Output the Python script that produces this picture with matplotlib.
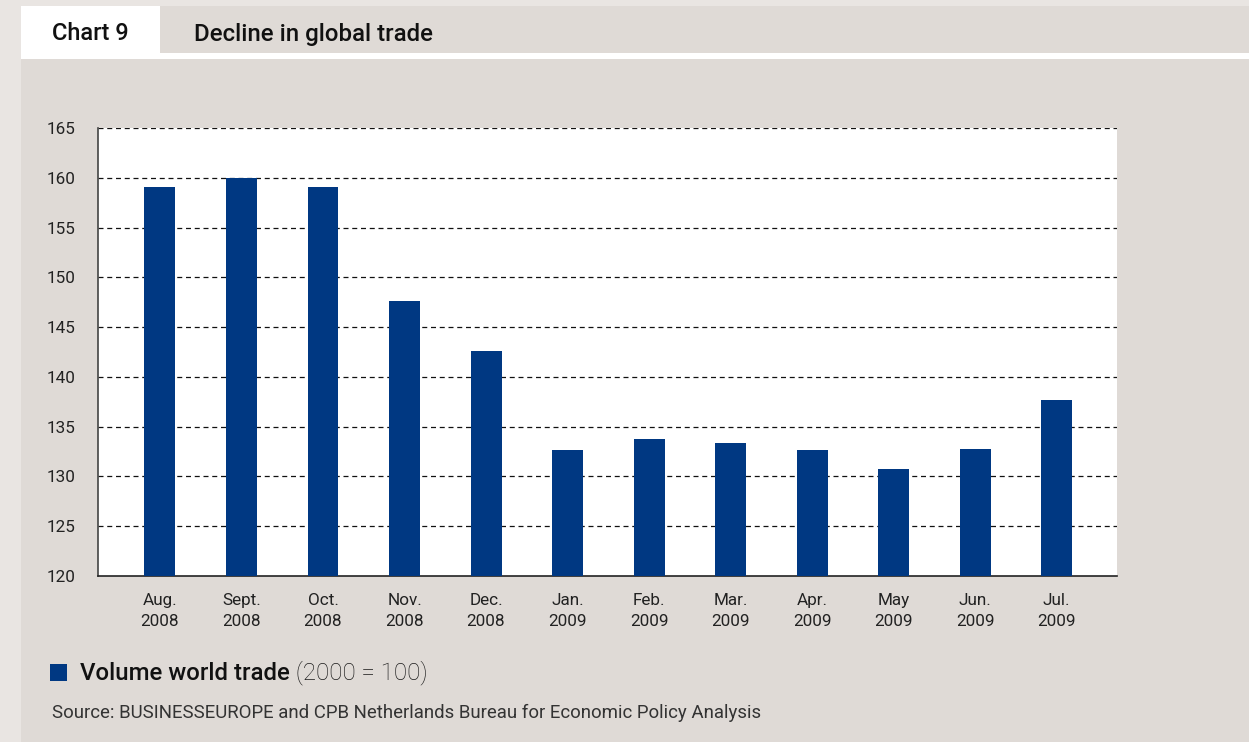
import matplotlib
matplotlib.use("Agg")
import matplotlib.pyplot as plt
from matplotlib.patches import Rectangle
import numpy as np

plt.rcParams['font.family'] = ['Roboto', 'DejaVu Sans']

months = ["Aug.\n2008", "Sept.\n2008", "Oct.\n2008", "Nov.\n2008", "Dec.\n2008",
          "Jan.\n2009", "Feb.\n2009", "Mar.\n2009", "Apr.\n2009", "May\n2009",
          "Jun.\n2009", "Jul.\n2009"]
volume = [159.1, 160.0, 159.1, 147.6, 142.6, 132.7, 133.8, 133.4, 132.7, 130.7, 132.8, 137.7]
yticks = [120, 125, 130, 135, 140, 145, 150, 155, 160, 165]

W, H = 1249, 742
fig = plt.figure(figsize=(W / 100, H / 100), dpi=100)
fig.patch.set_facecolor('#e9e5e2')

def box(x0, y0, x1, y1, color):
    # rectangle in pixel coords measured from the top-left
    fig.patches.append(Rectangle((x0 / W, 1 - y1 / H), (x1 - x0) / W, (y1 - y0) / H,
                                 transform=fig.transFigure, facecolor=color,
                                 edgecolor='none', zorder=-5))

box(21, 6, W, 53, '#dfdad6')
box(21, 6, 160, 53, 'white')
box(21, 53, W, 59, 'white')
box(21, 59, W, H, '#dfdad6')

fig.text(52 / W, 1 - 34 / H, "Chart 9", fontsize=17, fontweight='medium',
         va='center', ha='left', color='#111111')
fig.text(194 / W, 1 - 34 / H, "Decline in global trade", fontsize=17.3, fontweight='medium',
         va='center', ha='left', color='#111111')

ax = fig.add_axes([98 / W, 1 - 576 / H, (1117 - 98) / W, (576 - 128) / H])
ax.set_facecolor('white')
x = np.arange(len(volume))
ax.bar(x, [v - 120 for v in volume], bottom=120, width=0.38, color='#003882', zorder=3)
ax.set_xlim(-0.76, len(volume) - 1 + 0.74)
ax.set_ylim(120, 165)
ax.set_yticks(yticks)
ax.set_xticks(x)
ax.set_xticklabels(months, fontsize=12.3, color='#222222', linespacing=1.55)
ax.tick_params(axis='y', length=0, pad=16, labelsize=12.3, labelcolor='#222222')
ax.tick_params(axis='x', length=0, pad=12)
for y in yticks[1:]:
    ax.axhline(y, color='#111111', lw=0.9, ls=(0, (4, 3)), zorder=1)
for s in ['top', 'right']:
    ax.spines[s].set_visible(False)
ax.spines['left'].set_color('#444444')
ax.spines['bottom'].set_color('#222222')
ax.spines['left'].set_linewidth(1.2)
ax.spines['bottom'].set_linewidth(1.2)

box(50, 664, 67, 681, '#003882')
t = fig.text(80 / W, 1 - 673 / H, "Volume world trade", fontsize=17.3, fontweight='medium',
             va='center', ha='left', color='#111111')
fig.canvas.draw()
bb = t.get_window_extent()
fig.text(bb.x1 / W, 1 - 673 / H, " (2000 = 100)", fontsize=17.3, fontweight='light',
         va='center', ha='left', color='#1a1a1a')
fig.text(52 / W, 1 - 713 / H,
         "Source: BUSINESSEUROPE and CPB Netherlands Bureau for Economic Policy Analysis",
         fontsize=13.4, va='center', ha='left', color='#333333')

fig.savefig("out.png", dpi=100, facecolor=fig.get_facecolor())
